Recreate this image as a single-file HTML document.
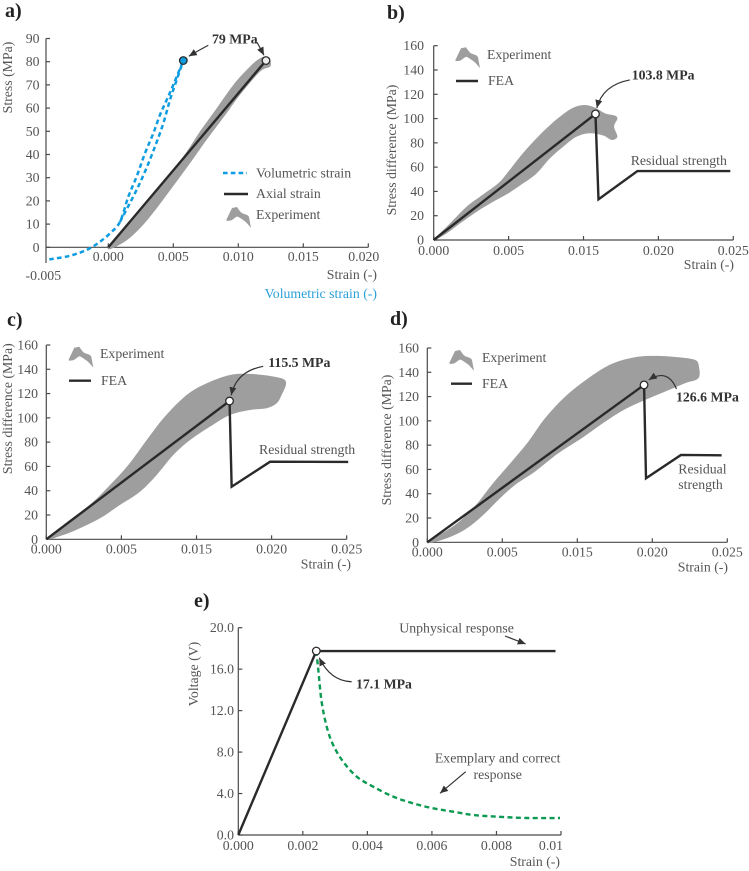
<!DOCTYPE html>
<html lang="en">
<head>
<meta charset="utf-8">
<title>Stress-strain validation panels</title>
<style>
html,body{margin:0;padding:0;background:#fff;width:749px;height:871px;overflow:hidden}
svg{display:block;filter:blur(.35px)}
text{font-family:"Liberation Serif",serif;font-size:13.8px;fill:#555}
.bold{font-weight:700;fill:#333}
.tag{font-weight:700;font-size:20px;fill:#222}
.fea{fill:none;stroke:#2a2a2a;stroke-width:2.4;stroke-linejoin:miter}
.exp{fill:#9e9e9e;stroke:none}
.axis{fill:none;stroke:#4a4a4a;stroke-width:1.2}
.blue{fill:none;stroke:#0e9ce0;stroke-width:2.5;stroke-dasharray:4.6 3.2}
.green{fill:none;stroke:#0c9a52;stroke-width:2.4;stroke-dasharray:5 3.4}
.arrow{fill:none;stroke:#333;stroke-width:1.2}
</style>
</head>
<body>
<svg id="chart" xmlns="http://www.w3.org/2000/svg" width="749" height="871" viewBox="0 0 749 871">
<defs>
<marker id="head" markerUnits="userSpaceOnUse" markerWidth="9" markerHeight="8" refX="8" refY="3.5" orient="auto"><path d="M0,0 L8,3.5 L0,7 Z" fill="#333"/></marker>
</defs>

<g id="panel-a">
<text class="tag" x="5" y="17">a)</text>
<text x="12" y="77.5" text-anchor="middle" transform="rotate(-90 12 77.5)">Stress (MPa)</text>
<text x="377" y="279" text-anchor="end">Strain (-)</text>
<text x="377" y="298" text-anchor="end" style="fill:#2a9fd8">Volumetric strain (-)</text>
<line x1="223" y1="173" x2="247" y2="173" class="blue"/>
<text x="256" y="177.5">Volumetric strain</text>
<line x1="224" y1="194" x2="248" y2="194" class="fea"/>
<text x="256" y="198">Axial strain</text>
<path transform="translate(226 207)" class="exp" d="M0.5,14 L0.5,12.5 L6,1 L11,0 C13,3 15,6 17,6.5 C20,7.5 22,8 23,10 L25,21 C22,17 19,14 17,13 C15,11.5 13,10 11,9.5 C9,10.5 7,12.5 5,13.5 Z"/>
<text x="256" y="219">Experiment</text>
<text class="bold" x="212" y="43.5">79 MPa</text>
</g>

<g id="panel-b">
<text class="tag" x="387" y="19">b)</text>
<text x="396" y="150" text-anchor="middle" transform="rotate(-90 396 150)">Stress difference (MPa)</text>
<text x="734" y="269" text-anchor="end">Strain (-)</text>
<path transform="translate(455 47.3)" class="exp" d="M0.5,14 L0.5,12.5 L6,1 L11,0 C13,3 15,6 17,6.5 C20,7.5 22,8 23,10 L25,21 C22,17 19,14 17,13 C15,11.5 13,10 11,9.5 C9,10.5 7,12.5 5,13.5 Z"/>
<text x="487" y="59">Experiment</text>
<line x1="456" y1="81" x2="478" y2="81" class="fea"/>
<text x="488" y="85">FEA</text>
<text class="bold" x="631.7" y="79.3">103.8 MPa</text>
<text x="630.7" y="165">Residual strength</text>
</g>

<g id="panel-c">
<text class="tag" x="7" y="326">c)</text>
<text x="12" y="408.7" text-anchor="middle" transform="rotate(-90 12 408.7)">Stress difference (MPa)</text>
<text x="351" y="568.5" text-anchor="end">Strain (-)</text>
<path transform="translate(68.3 346.7)" class="exp" d="M0.5,14 L0.5,12.5 L6,1 L11,0 C13,3 15,6 17,6.5 C20,7.5 22,8 23,10 L25,21 C22,17 19,14 17,13 C15,11.5 13,10 11,9.5 C9,10.5 7,12.5 5,13.5 Z"/>
<text x="100" y="358">Experiment</text>
<line x1="69" y1="380.7" x2="91" y2="380.7" class="fea"/>
<text x="101" y="385">FEA</text>
<text class="bold" x="268.3" y="367">115.5 MPa</text>
<text x="259" y="454">Residual strength</text>
</g>

<g id="panel-d">
<text class="tag" x="390" y="325">d)</text>
<text x="391" y="440" text-anchor="middle" transform="rotate(-90 391 440)">Stress difference (MPa)</text>
<text x="728" y="571.5" text-anchor="end">Strain (-)</text>
<path transform="translate(449 350)" class="exp" d="M0.5,14 L0.5,12.5 L6,1 L11,0 C13,3 15,6 17,6.5 C20,7.5 22,8 23,10 L25,21 C22,17 19,14 17,13 C15,11.5 13,10 11,9.5 C9,10.5 7,12.5 5,13.5 Z"/>
<text x="482" y="362">Experiment</text>
<line x1="451" y1="383.7" x2="472" y2="383.7" class="fea"/>
<text x="482" y="388">FEA</text>
<text class="bold" x="676" y="401.7">126.6 MPa</text>
<text x="678.3" y="473.3">Residual</text>
<text x="678.3" y="489">strength</text>
</g>

<g id="panel-e">
<text class="tag" x="194" y="607">e)</text>
<text x="198" y="674" text-anchor="middle" transform="rotate(-90 198 674)">Voltage (V)</text>
<text x="560" y="866" text-anchor="end">Strain (-)</text>
<text class="bold" x="356" y="688.3">17.1 MPa</text>
<text x="399.3" y="632.7">Unphysical response</text>
<text x="497.7" y="762.7" text-anchor="middle">Exemplary and correct</text>
<text x="497.7" y="779" text-anchor="middle">response</text>
<path class="arrow" d="M505,636 L525.7,644" marker-end="url(#head)"/>
<path class="arrow" d="M465.7,771.7 L440,793.3" marker-end="url(#head)"/>
</g>
</svg>

<script>
// ---- Panel a data ----
const aXTicks = [-0.005, 0, 0.005, 0.010, 0.015, 0.020];
const aXLabels = ['-0.005', '0.000', '0.005', '0.010', '0.015', '0.020'];
const aYTicks = [0, 10, 20, 30, 40, 50, 60, 70, 80, 90];
const aYLabels = ['0', '10', '20', '30', '40', '50', '60', '70', '80', '90'];
const aExpStrain = [0, .00244, .005, .00603, .00705, .00833, .00962, .01064, .01141, .01205, .01244, .01244, .01167, .01013, .0091, .00756, .00628, .005, .00372, .00244, .00115];
const aExpStress = [0, 16.1, 33.6, 41.2, 49.9, 59.9, 70, 76.4, 80.5, 82.2, 80.5, 77.9, 75.7, 65.7, 57.8, 46.3, 36.2, 26.4, 16.8, 8.2, 2];
const aAxialStrain = [0, .01213];
const aAxialStress = [0, 80.5];
const aVolUpStrain = [-.00454, -.00321, -.00218, -.00141, -.00064, .00013, .0009, .00154, .00218, .00282, .00346, .00397, .00449, .005, .00577];
const aVolUpStress = [-5.2, -4, -2.3, -.4, 2.4, 6, 11, 21.8, 30.5, 40.5, 49.1, 57, 63.5, 70, 80.5];
const aVolDownStrain = [.0009, .00205, .00282, .00359, .00423, .00474, .00513, .00577];
const aVolDownStress = [11, 23.3, 32.6, 43.4, 53.4, 63.5, 70, 80.5];

// ---- Panels b, c, d shared ticks ----
const sdXTicks = [0, 0.005, 0.015, 0.020, 0.025];
const sdXLabels = ['0.000', '0.005', '0.015', '0.020', '0.025'];
const sdYTicks = [0, 20, 40, 60, 80, 100, 120, 140, 160];
const sdYLabels = ['0', '20', '40', '60', '80', '100', '120', '140', '160'];

// ---- Panel b data ----
const bExpStrain = [0, .00109, .0022, .00309, .00431, .00498, .00652, .0083, .01007, .01186, .01364, .0151, .01577, .01644, .0171, .01726, .01704, .01726, .01688, .01632, .01543, .01409, .0123, .01053, .00875, .00696, .00498, .00398, .00287, .00176, .00087];
const bExpStress = [0, 13.7, 27.5, 35.7, 46.7, 56.3, 68.6, 81, 92, 101.6, 109, 111.2, 109, 104.3, 102.4, 99.7, 93.4, 85.1, 82.4, 86, 87.9, 85.1, 76.9, 67.3, 54.9, 46.7, 38.4, 31.6, 23.3, 13.7, 5.5];
const bFeaStrain = [0, .0158, .016, .0186, .0248];
const bFeaStress = [0, 103.8, 33.5, 56.8, 56.8];

// ---- Panel c data ----
const cExpStrain = [0, .00136, .00302, .00424, .00592, .00837, .01078, .0137, .01568, .01723, .01856, .0199, .02078, .02096, .02067, .02034, .01967, .01856, .01723, .0159, .01415, .01191, .0097, .00748, .00491, .00358, .00224, .00113];
const cExpStress = [0, 14, 29.7, 44.7, 61.2, 81.8, 101, 118.9, 128.5, 135.3, 136.2, 134.5, 132, 127.7, 118.9, 112, 107.9, 106.5, 102.4, 92.8, 81.8, 69.4, 53, 39.2, 28.3, 17.3, 9.1, 3.5];
const cFeaStrain = [0, .0172, .01734, .0199, .0251];
const cFeaStress = [0, 113.9, 43.3, 63.9, 63.7];

// ---- Panel d data ----
const dExpStrain = [0, .00185, .00318, .00429, .00625, .00847, .01069, .01336, .01573, .01729, .01885, .02018, .02173, .02285, .02311, .02307, .02218, .02085, .01951, .01818, .01685, .01529, .01247, .00936, .00669, .00473, .00385, .00296, .00207, .00096];
const dExpStress = [0, 14.3, 29.9, 47.2, 66.4, 82.9, 102.1, 119.9, 135.1, 146.9, 152.4, 153.5, 152.4, 150.2, 144.7, 135.1, 131, 124.1, 117.2, 109.6, 99.3, 85.7, 73.3, 58.2, 47.2, 34.8, 23.9, 14.3, 7.4, 1.9];
const dFeaStrain = [0, .01945, .01958, .02191, .02462];
const dFeaStress = [0, 129.6, 52.7, 71.9, 71.6];

// ---- Panel e data ----
const eXTicks = [0, .002, .004, .006, .008, .01];
const eXLabels = ['0.000', '0.002', '0.004', '0.006', '0.008', '0.01'];
const eYTicks = [0, 4, 8, 12, 16, 20];
const eYLabels = ['0.0', '4.0', '8.0', '12.0', '16.0', '20.0'];
const eUnphysStrain = [0, .002417, .00983];
const eUnphysVoltage = [0, 17.75, 17.75];
const eCorrectStrain = [.002417, .00248, .00258, .00274, .00294, .00325, .00367, .00418, .0048, .00542, .00604, .00666, .00728, .00801, .00894, .00997];
const eCorrectVoltage = [17.75, 15.9, 12.9, 10.45, 8.68, 7.07, 5.63, 4.66, 3.7, 3.05, 2.57, 2.25, 1.93, 1.77, 1.64, 1.64];

const NS = 'http://www.w3.org/2000/svg';

function mk(parent, tag, name, cls) {
  const el = document.createElementNS(NS, tag);
  
  
  if (cls) el.setAttribute('class', cls);
  parent.appendChild(el);
  return el;
}

// Axis scale: evenly spaced tick marks, values interpolated between ticks
function tickScale(ticks, p0, p1) {
  const step = (p1 - p0) / (ticks.length - 1);
  return function (v) {
    let i = 0;
    while (i < ticks.length - 2 && v > ticks[i + 1]) i++;
    return p0 + step * (i + (v - ticks[i]) / (ticks[i + 1] - ticks[i]));
  };
}

function drawAxes(id, c) {
  const g = document.getElementById(id);
  const x = tickScale(c.xTicks, c.left, c.right);
  const y = tickScale(c.yTicks, c.bottom, c.top);
  const spine = c.spine || c.left;
  const axes = mk(g, 'g', id + '-axes');
  const yAxis = mk(axes, 'line', id + '-y-axis', 'axis');
  yAxis.setAttribute('x1', spine);
  yAxis.setAttribute('x2', spine);
  yAxis.setAttribute('y1', c.top);
  yAxis.setAttribute('y2', c.yEnd || c.bottom);
  const xAxis = mk(axes, 'line', id + '-x-axis', 'axis');
  xAxis.setAttribute('x1', spine);
  xAxis.setAttribute('x2', c.right);
  xAxis.setAttribute('y1', c.bottom);
  xAxis.setAttribute('y2', c.bottom);
  c.yTicks.forEach(function (v, i) {
    const t = mk(axes, 'line', 'y-tick', 'axis');
    t.setAttribute('x1', spine);
    t.setAttribute('x2', spine + 4);
    t.setAttribute('y1', y(v));
    t.setAttribute('y2', y(v));
    const l = mk(axes, 'text', 'y-tick-label');
    l.setAttribute('x', c.yLabelX);
    l.setAttribute('y', y(v) + 4.5);
    l.setAttribute('text-anchor', 'end');
    l.textContent = c.yLabels[i];
  });
  c.xTicks.forEach(function (v, i) {
    if (x(v) >= spine) {
      const t = mk(axes, 'line', 'x-tick', 'axis');
      t.setAttribute('x1', x(v));
      t.setAttribute('x2', x(v));
      t.setAttribute('y1', c.bottom);
      t.setAttribute('y2', c.bottom - 4);
    }
    const l = mk(axes, 'text', 'x-tick-label');
    const last = i === c.xTicks.length - 1;
    l.setAttribute('x', x(v) + (last ? (c.lastDx || 0) : 0));
    l.setAttribute('y', c.xLabelY + ((i === 0 && c.firstDy) || 0));
    l.setAttribute('text-anchor', 'middle');
    l.textContent = c.xLabels[i];
  });
  return { g: g, x: x, y: y };
}

// Smooth path through points (Catmull-Rom)
function smoothPath(pts, closed) {
  const n = pts.length;
  const at = function (i) {
    return closed ? pts[(i + n) % n] : pts[Math.max(0, Math.min(n - 1, i))];
  };
  let d = 'M' + pts[0][0].toFixed(2) + ',' + pts[0][1].toFixed(2);
  const end = closed ? n : n - 1;
  for (let i = 0; i < end; i++) {
    const p0 = at(i - 1), p1 = at(i), p2 = at(i + 1), p3 = at(i + 2);
    d += ' C' + (p1[0] + (p2[0] - p0[0]) / 6).toFixed(2) + ',' + (p1[1] + (p2[1] - p0[1]) / 6).toFixed(2) +
         ' ' + (p2[0] - (p3[0] - p1[0]) / 6).toFixed(2) + ',' + (p2[1] - (p3[1] - p1[1]) / 6).toFixed(2) +
         ' ' + p2[0].toFixed(2) + ',' + p2[1].toFixed(2);
  }
  return closed ? d + ' Z' : d;
}

function toPoints(ax, xs, ys) {
  return xs.map(function (v, i) { return [ax.x(v), ax.y(ys[i])]; });
}

function drawBand(ax, xs, ys, name) {
  const el = mk(ax.g, 'path', name, 'exp');
  el.setAttribute('d', smoothPath(toPoints(ax, xs, ys), true));
}

function drawLine(ax, xs, ys, name) {
  const el = mk(ax.g, 'polyline', name, 'fea');
  el.setAttribute('points', toPoints(ax, xs, ys).map(function (p) { return p.join(','); }).join(' '));
}

function drawCurve(ax, xs, ys, name, cls) {
  const el = mk(ax.g, 'path', name, cls);
  el.setAttribute('d', smoothPath(toPoints(ax, xs, ys), false));
}

function peakOf(ax, xs, ys) {
  let k = 0;
  ys.forEach(function (v, i) { if (v > ys[k]) k = i; });
  return [ax.x(xs[k]), ax.y(ys[k])];
}

function drawMarker(ax, p, fill, name) {
  const el = mk(ax.g, 'circle', name);
  el.setAttribute('cx', p[0]);
  el.setAttribute('cy', p[1]);
  el.setAttribute('r', 3.8);
  el.setAttribute('fill', fill);
  el.setAttribute('stroke', '#2a2a2a');
  el.setAttribute('stroke-width', 1.3);
}

// Callout arrow placed relative to the peak it points at
function drawArrow(ax, p, s, c, t, name) {
  const el = mk(ax.g, 'path', name, 'arrow');
  el.setAttribute('d', 'M' + (p[0] + s[0]) + ',' + (p[1] + s[1]) + ' Q' + (p[0] + c[0]) + ',' + (p[1] + c[1]) + ' ' + (p[0] + t[0]) + ',' + (p[1] + t[1]));
  el.setAttribute('marker-end', 'url(#head)');
}

// Panel a
const axA = drawAxes('panel-a', { left: 43.3, spine: 46, right: 368.3, top: 38.5, bottom: 247.3, yEnd: 263, xTicks: aXTicks, xLabels: aXLabels, yTicks: aYTicks, yLabels: aYLabels, yLabelX: 39.5, xLabelY: 261, firstDy: 19, lastDx: -4.5 });
drawBand(axA, aExpStrain, aExpStress, 'experiment-band');
drawLine(axA, aAxialStrain, aAxialStress, 'axial-strain-line');
drawCurve(axA, aVolUpStrain, aVolUpStress, 'volumetric-strain-upper', 'blue');
drawCurve(axA, aVolDownStrain, aVolDownStress, 'volumetric-strain-lower', 'blue');
const aPeakAxial = peakOf(axA, aAxialStrain, aAxialStress);
const aPeakVol = peakOf(axA, aVolUpStrain, aVolUpStress);
drawMarker(axA, aPeakAxial, '#eee', 'axial-peak-marker');
drawMarker(axA, aPeakVol, '#0e9ce0', 'volumetric-peak-marker');
drawArrow(axA, aPeakVol, [25, -15.3], [15, -10], [5.5, -4.3], 'volumetric-peak-arrow');
drawArrow(axA, aPeakAxial, [-9, -18.3], [-5.5, -12], [-2, -5.3], 'axial-peak-arrow');

// Panel b
const axB = drawAxes('panel-b', { left: 433.7, right: 733.3, top: 45.7, bottom: 240, xTicks: sdXTicks, xLabels: sdXLabels, yTicks: sdYTicks, yLabels: sdYLabels, yLabelX: 424, xLabelY: 255 });
drawBand(axB, bExpStrain, bExpStress, 'experiment-band');
drawLine(axB, bFeaStrain, bFeaStress, 'fea-line');
const bPeak = peakOf(axB, bFeaStrain, bFeaStress);
drawMarker(axB, bPeak, '#fff', 'fea-peak-marker');
drawArrow(axB, bPeak, [34.3, -34], [7.3, -29], [1.3, -6], 'peak-arrow');

// Panel c
const axC = drawAxes('panel-c', { left: 46.3, right: 346.7, top: 345, bottom: 539.3, xTicks: sdXTicks, xLabels: sdXLabels, yTicks: sdYTicks, yLabels: sdYLabels, yLabelX: 38, xLabelY: 553.5 });
drawBand(axC, cExpStrain, cExpStress, 'experiment-band');
drawLine(axC, cFeaStrain, cFeaStress, 'fea-line');
const cPeak = peakOf(axC, cFeaStrain, cFeaStress);
drawMarker(axC, cPeak, '#fff', 'fea-peak-marker');
drawArrow(axC, cPeak, [33.7, -34.7], [6.7, -29.7], [1.7, -5.7], 'peak-arrow');

// Panel d
const axD = drawAxes('panel-d', { left: 427.3, right: 727.3, top: 348, bottom: 542.3, xTicks: sdXTicks, xLabels: sdXLabels, yTicks: sdYTicks, yLabels: sdYLabels, yLabelX: 419, xLabelY: 556.5 });
drawBand(axD, dExpStrain, dExpStress, 'experiment-band');
drawLine(axD, dFeaStrain, dFeaStress, 'fea-line');
const dPeak = peakOf(axD, dFeaStrain, dFeaStress);
drawMarker(axD, dPeak, '#fff', 'fea-peak-marker');
drawArrow(axD, dPeak, [32.4, 4], [23.7, -17], [4.7, -5], 'peak-arrow');

// Panel e
const axE = drawAxes('panel-e', { left: 238.3, right: 561, top: 627.7, bottom: 835, xTicks: eXTicks, xLabels: eXLabels, yTicks: eYTicks, yLabels: eYLabels, yLabelX: 234, xLabelY: 850, lastDx: -10 });
drawCurve(axE, eCorrectStrain, eCorrectVoltage, 'exemplary-response-curve', 'green');
drawLine(axE, eUnphysStrain, eUnphysVoltage, 'unphysical-response-line');
const ePeak = peakOf(axE, eUnphysStrain, eUnphysVoltage);
drawMarker(axE, ePeak, '#fff', 'peak-marker');
drawArrow(axE, ePeak, [35.4, 30.7], [14, 30], [3, 6.7], 'peak-arrow');
</script>
</body>
</html>
